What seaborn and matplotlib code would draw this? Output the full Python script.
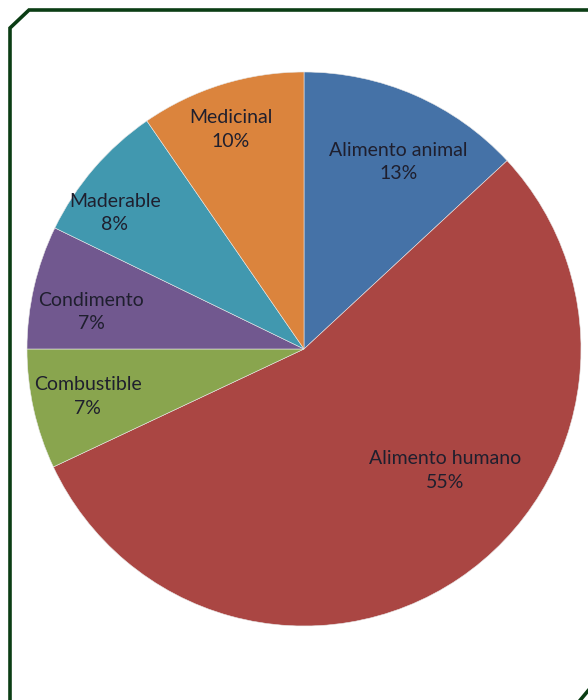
import numpy as np
import matplotlib
matplotlib.use("Agg")
import matplotlib.pyplot as plt
from matplotlib.lines import Line2D
import seaborn as sns

categories = ["Alimento animal", "Alimento humano", "Combustible",
              "Condimento", "Maderable", "Medicinal"]
values = [13.1, 54.9, 7.0, 7.2, 8.2, 9.6]
pct_labels = ["13%", "55%", "7%", "7%", "8%", "10%"]
colors = ["#4572A7", "#AA4643", "#89A54E", "#71588F", "#4198AF", "#DB843D"]

sns.set_theme(style="white")
plt.rcParams['font.family'] = ['Lato', 'DejaVu Sans']

W, H = 588, 700
fig = plt.figure(figsize=(W / 100, H / 100), dpi=100)
fig.patch.set_facecolor("white")

cx, cy, r = 304, 349, 277
ax = fig.add_axes([(cx - r) / W, (H - cy - r) / H, 2 * r / W, 2 * r / H])
palette = sns.color_palette(colors)
wedges, _ = ax.pie(values, colors=palette, startangle=90, counterclock=False,
                   radius=1.0, wedgeprops=dict(edgecolor="#e8e8e8", linewidth=0.4))
ax.set_xlim(-1, 1)
ax.set_ylim(-1, 1)
ax.set_aspect("auto")
ax.axis("off")

# label placement: radius fraction and angular tweak (degrees) per slice
label_r = [0.755, 0.671, 0.799, 0.779, 0.84, 0.835]
label_dang = [-3.2, 15.2, -0.2, 3.0, 5.0, 1.2]
for w, name, pct, lr, da in zip(wedges, categories, pct_labels, label_r, label_dang):
    mid = np.deg2rad((w.theta1 + w.theta2) / 2 + da)
    x, y = lr * np.cos(mid), lr * np.sin(mid)
    ax.text(x, y, f"{name}\n{pct}", ha="center", va="center", fontsize=14,
            color="#1f1f2e", linespacing=1.45)

# dark green frame
lc = "#0b3d14"
fig.add_artist(Line2D([10 / W, 10 / W, 29 / W, 1.01],
                      [-0.01, 1 - 28 / H, 1 - 10 / H, 1 - 10 / H],
                      transform=fig.transFigure, color=lc, linewidth=2.6,
                      solid_joinstyle="miter"))
fig.add_artist(Line2D([578 / W, 592 / W], [-0.004, 14 / H],
                      transform=fig.transFigure, color=lc, linewidth=2.6))

fig.savefig("out.png", dpi=100, facecolor="white")
